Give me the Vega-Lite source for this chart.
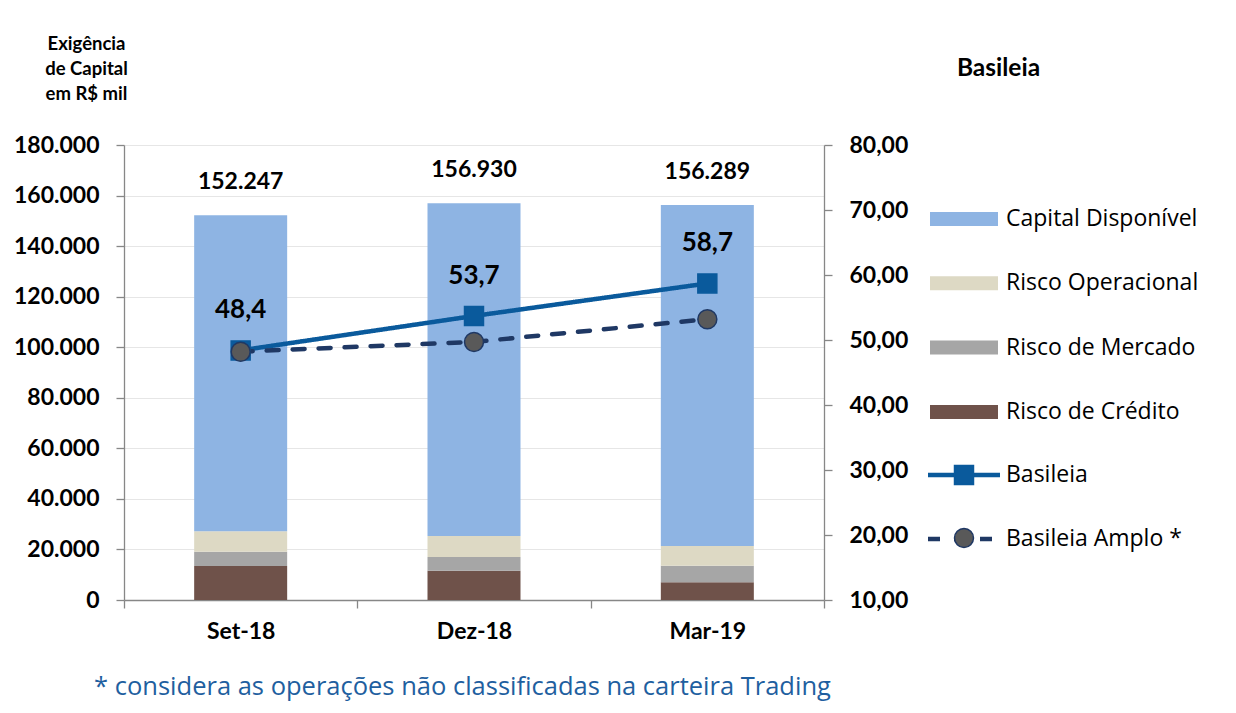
{
  "$schema": "https://vega.github.io/schema/vega-lite/v6.json",
  "width": 700,
  "height": 455,
  "autosize": {"type": "none"},
  "padding": {"left": 124, "top": 145, "right": 412, "bottom": 113},
  "background": "white",
  "config": {
    "locale": {"number": {"decimal": ",", "thousands": ".", "grouping": [3], "currency": ["R$", ""]}},
    "font": "Lato",
    "view": {"stroke": null},
    "axis": {
      "domainColor": "#878787",
      "domainWidth": 1.3,
      "tickColor": "#878787",
      "tickWidth": 1.3,
      "tickSize": 8,
      "labelFont": "Lato",
      "labelFontWeight": "bold",
      "labelFontSize": 23,
      "labelColor": "#000000",
      "gridColor": "#E6E6E6",
      "gridWidth": 1
    },
    "legend": {"padding": 0, "labelFont": "Open Sans", "labelFontSize": 23, "labelColor": "#000000", "labelLimit": 400}
  },
  "datasets": {
    "barras": [
      {"mes": "Set-18", "componente": "Risco de Crédito", "valor": 13450},
      {"mes": "Set-18", "componente": "Risco de Mercado", "valor": 5650},
      {"mes": "Set-18", "componente": "Risco Operacional", "valor": 8080},
      {"mes": "Set-18", "componente": "Capital Disponível", "valor": 125067},
      {"mes": "Dez-18", "componente": "Risco de Crédito", "valor": 11590},
      {"mes": "Dez-18", "componente": "Risco de Mercado", "valor": 5420},
      {"mes": "Dez-18", "componente": "Risco Operacional", "valor": 8310},
      {"mes": "Dez-18", "componente": "Capital Disponível", "valor": 131610},
      {"mes": "Mar-19", "componente": "Risco de Crédito", "valor": 7000},
      {"mes": "Mar-19", "componente": "Risco de Mercado", "valor": 6570},
      {"mes": "Mar-19", "componente": "Risco Operacional", "valor": 7790},
      {"mes": "Mar-19", "componente": "Capital Disponível", "valor": 134929}
    ],
    "indices": [
      {"mes": "Set-18", "serie": "Basileia", "indice": 48.4},
      {"mes": "Dez-18", "serie": "Basileia", "indice": 53.7},
      {"mes": "Mar-19", "serie": "Basileia", "indice": 58.7},
      {"mes": "Set-18", "serie": "Basileia Amplo *", "indice": 48.2},
      {"mes": "Dez-18", "serie": "Basileia Amplo *", "indice": 49.7},
      {"mes": "Mar-19", "serie": "Basileia Amplo *", "indice": 53.2}
    ]
  },
  "encoding": {
    "x": {
      "field": "mes",
      "type": "ordinal",
      "sort": ["Set-18", "Dez-18", "Mar-19"],
      "scale": {"paddingInner": 0, "paddingOuter": 0},
      "axis": {
        "labelAngle": 0,
        "labelPadding": 12,
        "tickBand": "extent",
        "title": "* considera as operações não classificadas na carteira Trading",
        "titleFont": "Open Sans",
        "titleFontSize": 25.5,
        "titleFontWeight": "normal",
        "titleColor": "#1F5FA0",
        "titleX": 338,
        "titleY": 86,
        "titleAlign": "center",
        "titleBaseline": "middle"
      }
    }
  },
  "layer": [
    {
      "data": {"name": "barras"},
      "layer": [
        {
          "transform": [
            {"calculate": "indexof(['Capital Disponível','Risco Operacional','Risco de Mercado','Risco de Crédito'], datum.componente)", "as": "ord"}
          ],
          "mark": {"type": "bar", "width": 93},
          "encoding": {
            "y": {
              "field": "valor",
              "type": "quantitative",
              "aggregate": "sum",
              "stack": "zero",
              "scale": {"domain": [0, 180000], "nice": false},
              "axis": {
                "orient": "left",
                "values": [0, 20000, 40000, 60000, 80000, 100000, 120000, 140000, 160000, 180000],
                "format": ",.0f",
                "labelPadding": 17,
                "grid": true,
                "title": ["Exigência", "de Capital", "em R$ mil"],
                "titleAngle": 0,
                "titleX": -38,
                "titleY": -111,
                "titleAlign": "center",
                "titleBaseline": "top",
                "titleLineHeight": 25,
                "titleFontSize": 18.5,
                "titleFontWeight": "bold",
                "titleFont": "Lato",
                "titleColor": "#000000"
              }
            },
            "color": {
              "field": "componente",
              "type": "nominal",
              "scale": {
                "domain": ["Capital Disponível", "Risco Operacional", "Risco de Mercado", "Risco de Crédito"],
                "range": ["#8EB4E3", "#DDD9C4", "#A6A6A6", "#6F524A"]
              },
              "legend": {
                "orient": "none",
                "legendX": 806,
                "legendY": 40,
                "title": null,
                "symbolType": "M-1,-0.206H1V0.206H-1Z",
                "symbolSize": 4624,
                "symbolStrokeWidth": 0,
                "labelOffset": 8,
                "rowPadding": 18.3
              }
            },
            "order": {"field": "ord", "sort": "descending"}
          }
        },
        {
          "transform": [
            {"aggregate": [{"op": "sum", "field": "valor", "as": "total"}], "groupby": ["mes"]}
          ],
          "mark": {"type": "text", "dy": -33, "font": "Lato", "fontWeight": "bold", "fontSize": 23, "color": "#000000"},
          "encoding": {
            "y": {"field": "total", "type": "quantitative"},
            "text": {"field": "total", "type": "quantitative", "format": ",.0f"}
          }
        }
      ]
    },
    {
      "data": {"name": "indices"},
      "layer": [
        {
          "mark": {"type": "line", "strokeWidth": 4.5, "strokeCap": "round"},
          "encoding": {
            "y": {
              "field": "indice",
              "type": "quantitative",
              "scale": {"domain": [10, 80], "nice": false, "zero": false},
              "axis": {
                "orient": "right",
                "values": [10, 20, 30, 40, 50, 60, 70, 80],
                "format": ".2f",
                "labelPadding": 17,
                "grid": false,
                "title": "Basileia",
                "titleAngle": 0,
                "titleX": 174,
                "titleY": -77,
                "titleAlign": "center",
                "titleBaseline": "middle",
                "titleFontSize": 24.5,
                "titleFontWeight": "bold",
                "titleFont": "Lato",
                "titleColor": "#000000"
              }
            },
            "color": {
              "field": "serie",
              "type": "nominal",
              "scale": {"domain": ["Basileia", "Basileia Amplo *"], "range": ["#0A5A9C", "#1F3864"]},
              "legend": {
                "orient": "none",
                "legendX": 801.5,
                "legendY": 291.5,
                "title": null,
                "symbolType": "stroke",
                "symbolSize": 5184,
                "symbolStrokeWidth": 4.5,
                "labelOffset": 3.5,
                "rowPadding": 13
              }
            },
            "strokeDash": {
              "field": "serie",
              "type": "nominal",
              "scale": {"domain": ["Basileia", "Basileia Amplo *"], "range": [[1, 0], [12, 14]]},
              "legend": {
                "orient": "none",
                "legendX": 801.5,
                "legendY": 291.5,
                "title": null,
                "symbolType": "stroke",
                "symbolSize": 5184,
                "symbolStrokeWidth": 4.5,
                "labelOffset": 3.5,
                "rowPadding": 13
              }
            }
          }
        },
        {
          "mark": {"type": "point", "filled": true, "size": 360, "strokeWidth": 1.5, "opacity": 1},
          "encoding": {
            "y": {"field": "indice", "type": "quantitative"},
            "shape": {
              "field": "serie",
              "type": "nominal",
              "scale": {"range": ["square", "circle"]},
              "legend": {
                "orient": "none",
                "legendX": 829.5,
                "legendY": 319.5,
                "title": null,
                "symbolSize": 360,
                "symbolStrokeWidth": 1.5,
                "labelExpr": "''",
                "labelFontSize": 20,
                "rowPadding": 38
              }
            },
            "fill": {
              "field": "serie",
              "type": "nominal",
              "scale": {"range": ["#0A5A9C", "#595959"]},
              "legend": {
                "orient": "none",
                "legendX": 829.5,
                "legendY": 319.5,
                "title": null,
                "symbolSize": 360,
                "symbolStrokeWidth": 1.5,
                "labelExpr": "''",
                "labelFontSize": 20,
                "rowPadding": 38
              }
            },
            "stroke": {
              "field": "serie",
              "type": "nominal",
              "scale": {"range": ["#0A5A9C", "#1F3864"]},
              "legend": {
                "orient": "none",
                "legendX": 829.5,
                "legendY": 319.5,
                "title": null,
                "symbolSize": 360,
                "symbolStrokeWidth": 1.5,
                "labelExpr": "''",
                "labelFontSize": 20,
                "rowPadding": 38
              }
            }
          }
        },
        {
          "transform": [{"filter": "datum.serie === 'Basileia'"}],
          "mark": {"type": "text", "dy": -40, "font": "Lato", "fontWeight": "bold", "fontSize": 26, "color": "#000000"},
          "encoding": {
            "y": {"field": "indice", "type": "quantitative"},
            "text": {"field": "indice", "type": "quantitative", "format": ".1f"}
          }
        }
      ]
    }
  ],
  "resolve": {
    "scale": {"y": "independent", "color": "independent", "strokeDash": "independent", "shape": "independent", "fill": "independent", "stroke": "independent"}
  }
}
